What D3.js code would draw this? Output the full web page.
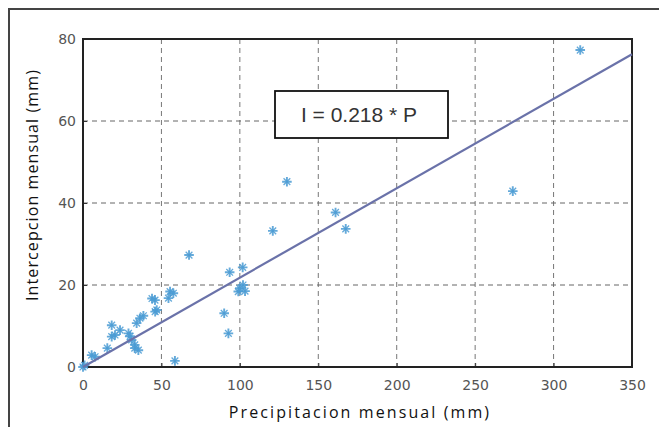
<!DOCTYPE html>
<html>
<head>
<meta charset="utf-8">
<script src="https://cdn.jsdelivr.net/npm/d3@7"></script>
<style>
    body { margin: 0; background: #fff; }
    #chart-area { width: 659px; height: 427px; }
    .axis-label { font-family: "Open Sans", sans-serif; font-size: 16px; fill: #111; }
    .tick-label { font-family: "DejaVu Sans", sans-serif; font-size: 14px; fill: #555; }
    .eq-label { font-family: "Liberation Sans", Arial, sans-serif; font-size: 21px; fill: #333; }
</style>
</head>
<body>
<div id="chart-area"></div>
<script>
// monthly precipitation (mm) and matching interception (mm)
let precip = [0, 1, 5.5, 7.7, 15.5, 18.3, 18.3, 20.4, 23.6, 29, 30, 31, 33, 33, 35.3, 34.2,
    36.3, 38.5, 44, 45.9, 46, 47, 54.5, 55.5, 57.6, 58.6, 67.6, 90, 92.7, 93.5,
    99, 100, 101.8, 103.3, 102, 121, 130, 161, 167.5, 274, 317];
let intercep = [0, 0.4, 2.9, 2.5, 4.6, 10.2, 7.4, 7.8, 9, 8.2, 7.5, 6.6, 5.4, 4.6, 4.1, 10.7,
    11.9, 12.5, 16.7, 16.3, 13.5, 13.9, 16.8, 18.4, 18, 1.5, 27.3, 13.1, 8.2, 23.1,
    18.4, 19.2, 24.3, 18.5, 20, 33.2, 45.2, 37.7, 33.7, 42.9, 77.3];

// fitted line I = 0.218 * P
let slope = 0.218;
let fitRange = [0, 350];

let xTicks = [0, 50, 100, 150, 200, 250, 300, 350];
let yTicks = [0, 20, 40, 60, 80];
let xDomain = [0, 350];
let yDomain = [0, 80];

let xTitle = "Precipitacion mensual (mm)";
let yTitle = "Intercepcion mensual (mm)";
let eqText = "I = 0.218 * P";

class ScatterVis {
    constructor(parentElement) {
        this.parentElement = parentElement;
        this.initVis();
    }

    initVis() {
        let vis = this;

        vis.margin = { top: 39, right: 27, bottom: 60, left: 83 };
        vis.width = 659 - vis.margin.left - vis.margin.right;
        vis.height = 427 - vis.margin.top - vis.margin.bottom;

        vis.root = d3.select("#" + vis.parentElement).append("svg")
            .attr("width", 659)
            .attr("height", 427);

        // outer frame of the figure (cropped on right and bottom)
        vis.root.append("rect")
            .attr("x", 9)
            .attr("y", 9)
            .attr("width", 700)
            .attr("height", 500)
            .attr("fill", "none")
            .attr("stroke", "#444")
            .attr("stroke-width", 2);

        vis.svg = vis.root.append("g")
            .attr("transform", "translate(" + vis.margin.left + "," + vis.margin.top + ")");

        vis.x = d3.scaleLinear().domain(xDomain).range([0, vis.width]);
        vis.y = d3.scaleLinear().domain(yDomain).range([vis.height, 0]);

        vis.wrangleData();
    }

    wrangleData() {
        let vis = this;
        vis.points = precip.map((p, i) => ({ p: p, i: intercep[i] }));
        vis.fit = fitRange.map(p => ({ p: p, i: slope * p }));
        vis.updateVis();
    }

    updateVis() {
        let vis = this;

        // grid lines
        vis.svg.append("g")
            .selectAll("line")
            .data(xTicks.slice(1, -1))
            .enter().append("line")
            .attr("x1", d => vis.x(d))
            .attr("x2", d => vis.x(d))
            .attr("y1", 0)
            .attr("y2", vis.height)
            .attr("stroke", "#777")
            .attr("stroke-dasharray", "5,4");

        vis.svg.append("g")
            .selectAll("line")
            .data(yTicks.slice(1, -1))
            .enter().append("line")
            .attr("x1", 0)
            .attr("x2", vis.width)
            .attr("y1", d => vis.y(d))
            .attr("y2", d => vis.y(d))
            .attr("stroke", "#666")
            .attr("stroke-dasharray", "5,4");

        // axes
        let xAxis = d3.axisBottom(vis.x).tickValues(xTicks).tickSize(-4).tickPadding(10);
        let yAxis = d3.axisLeft(vis.y).tickValues(yTicks).tickSize(-4).tickPadding(7);

        let gx = vis.svg.append("g")
            .attr("transform", "translate(0," + vis.height + ")")
            .call(xAxis);
        let gy = vis.svg.append("g").call(yAxis);

        [gx, gy].forEach(g => {
            g.select(".domain").remove();
            g.selectAll(".tick line").attr("stroke", "#333");
            g.selectAll(".tick text").attr("class", "tick-label").attr("fill", null);
        });
        gx.selectAll(".tick text").attr("dy", "0.9em");

        // axes box
        vis.svg.append("rect")
            .attr("width", vis.width)
            .attr("height", vis.height)
            .attr("fill", "none")
            .attr("stroke", "#222")
            .attr("stroke-width", 2);

        // data markers (matlab style star)
        let r = 4.8;
        let marks = vis.svg.append("g")
            .selectAll("g")
            .data(vis.points)
            .enter().append("g")
            .attr("transform", d => "translate(" + vis.x(d.p) + "," + vis.y(d.i) + ")")
            .attr("stroke", "#4a9bd3")
            .attr("stroke-width", 1.9)
            .attr("stroke-opacity", 0.85);

        marks.append("path").attr("d", `M${-r},0H${r}M0,${-r}V${r}`);
        marks.append("path")
            .attr("d", `M${-r * 0.7},${-r * 0.7}L${r * 0.7},${r * 0.7}M${-r * 0.7},${r * 0.7}L${r * 0.7},${-r * 0.7}`)
            .attr("stroke-width", 1.3);

        // fit line
        let line = d3.line()
            .x(d => vis.x(d.p))
            .y(d => vis.y(d.i));

        vis.svg.append("path")
            .datum(vis.fit)
            .attr("d", line)
            .attr("fill", "none")
            .attr("stroke", "#6a72a9")
            .attr("stroke-width", 2.2);

        // equation box
        let eq = vis.svg.append("g")
            .attr("transform", "translate(" + (275 - vis.margin.left) + "," + (91 - vis.margin.top) + ")");
        eq.append("rect")
            .attr("width", 173)
            .attr("height", 47)
            .attr("fill", "#fff")
            .attr("stroke", "#111")
            .attr("stroke-width", 1.8);
        eq.append("text")
            .attr("class", "eq-label")
            .attr("x", 84)
            .attr("y", 31)
            .attr("text-anchor", "middle")
            .text(eqText);

        // axis titles
        vis.root.append("text")
            .attr("class", "axis-label")
            .attr("x", 360)
            .attr("y", 418)
            .attr("text-anchor", "middle")
            .style("letter-spacing", "2.1px")
            .text(xTitle);

        vis.root.append("text")
            .attr("class", "axis-label")
            .attr("transform", "translate(38,185) rotate(-90)")
            .attr("text-anchor", "middle")
            .style("letter-spacing", "1.1px")
            .text(yTitle);
    }
}

new ScatterVis("chart-area");
</script>
</body>
</html>
